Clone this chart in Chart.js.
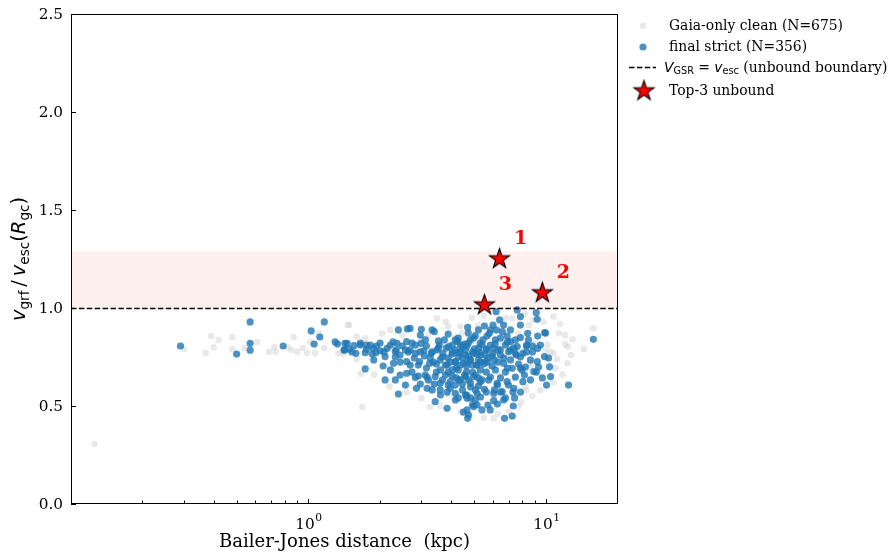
<!DOCTYPE html>
<html><head><meta charset="utf-8">
<script src="https://cdn.jsdelivr.net/npm/chart.js@4/dist/chart.umd.min.js"></script>
<style>html,body{margin:0;padding:0;background:#fff;}#wrap{width:894px;height:552px;}</style>
</head><body><div id="wrap"><canvas id="c" width="894" height="552"></canvas></div>
<script>
// ---------- DATA ----------
// [Bailer-Jones distance (kpc), v_grf / v_esc(R_gc)]
const gaiaClean = [
 [0.126,0.306],[0.30,0.79],[0.37,0.77],[0.39,0.857],[0.40,0.80],[0.42,0.837],[0.48,0.852],[0.48,0.79],
 [0.54,0.796],[0.61,0.826],[0.685,0.776],[0.72,0.80],[0.73,0.776],[0.82,0.80],[0.85,0.786],[0.87,0.852],
 [0.90,0.776],[0.95,0.796],[0.99,0.77],[1.02,0.827],[1.07,0.77],[1.11,0.872],[1.17,0.796],[1.34,0.77],
 [1.40,0.765],[1.47,0.913],[1.69,0.495],[1.67,0.663],[1.49,0.913],[2.22,0.888],[3.49,0.947],[3.89,0.905],
 [4.38,0.905],[4.45,0.871],[7.24,0.947],[10.8,0.956],[11.4,0.871],[12.1,0.862],[15.9,0.896],[10.2,0.811],
 [10.5,0.777],[12.4,0.718],[11.0,0.692],[8.64,0.70],[8.23,0.598],[6.05,0.437],[7.70,0.497],[1.60,0.854],
 [1.74,0.845],[8.5,0.913],[8.89,0.939],[12.1,0.815],[12.4,0.803],[10.8,0.769],[3.27,0.495],
 [2.05,0.87],[2.5,0.86],[3.2,0.86],[3.8,0.93],[4.9,0.95],[5.2,0.91],[5.5,0.96],[6.8,0.95],[8.2,0.97],
 [9.8,0.93],[11.5,0.92],[13.0,0.84],[14.5,0.79],[12.8,0.76],[11.8,0.66],[10.8,0.62],[9.5,0.58],[8.8,0.55],
 [7.9,0.52],[7.0,0.47],[6.3,0.46],[5.5,0.44],[4.4,0.47],[3.6,0.50],[3.0,0.54],[2.6,0.57],[2.2,0.60],
 [1.9,0.66],[1.6,0.74],[1.8,0.80],[2.2,0.80],[2.9,0.78],[3.8,0.75],[4.6,0.69],[5.8,0.70],[6.9,0.76],
 [8.6,0.72],[6.4,0.66],[5.0,0.60],[4.0,0.66],[3.3,0.62],[2.7,0.70],[5.3,0.84],[6.6,0.82],[7.7,0.87],
 [4.2,0.85],[3.0,0.84],[9.0,0.82],[10.0,0.78],[11.2,0.74],[7.4,0.64],[8.3,0.58],[6.1,0.55],[4.9,0.52],[3.9,0.56]
];
const finalStrict = [
 [0.29,0.806],[0.50,0.765],[0.57,0.929],[0.57,0.82],[0.57,0.785],[0.785,0.806],[1.03,0.883],[1.17,0.929],
 [1.12,0.852],[1.06,0.816],[1.30,0.827],[1.33,0.816],[1.46,0.82],[1.42,0.786],[1.49,0.79],
 [7.6,0.99],[6.19,0.981],[9.14,0.976],[7.84,0.956],[6.41,0.939],[9.23,0.942],[5.53,0.908],[6.01,0.913],
 [4.70,0.901],[2.69,0.896],[3.0,0.891],[3.40,0.879],[6.58,0.879],[5.80,0.871],[5.06,0.859],[5.67,0.857],
 [8.41,0.871],[9.92,0.874],[7.84,0.849],[6.89,0.857],[7.12,0.828],[15.9,0.84],[4.27,0.828],[2.37,0.82],
 [2.60,0.828],[2.99,0.82],[3.57,0.811],[3.91,0.803],[4.67,0.806],[5.31,0.82],[6.14,0.816],[7.6,0.803],
 [9.27,0.794],[1.43,0.82],[1.56,0.808],[1.42,0.786],[1.59,0.769],[1.76,0.789],[1.88,0.794],[1.74,0.772],
 [1.93,0.772],[2.01,0.782],[2.15,0.794],[2.11,0.752],[1.89,0.735],[1.74,0.689],[2.33,0.777],[2.44,0.760],
 [2.69,0.786],[2.83,0.769],[3.07,0.782],[3.30,0.769],[3.49,0.786],[3.70,0.769],[4.04,0.765],[4.31,0.772],
 [4.60,0.760],[4.98,0.769],[5.31,0.772],[5.67,0.786],[6.01,0.769],[6.45,0.786],[7.0,0.777],[7.47,0.769],
 [8.03,0.769],[8.35,0.811],[9.23,0.726],[9.9,0.752],[10.4,0.70],[2.29,0.718],[2.60,0.726],[2.95,0.726],
 [3.25,0.718],[3.60,0.735],[3.85,0.709],[4.17,0.726],[4.52,0.718],[4.82,0.735],[5.15,0.709],[5.57,0.726],
 [6.09,0.735],[6.66,0.718],[7.24,0.692],[7.96,0.684],[8.93,0.675],[10.5,0.650],[10.1,0.607],[12.5,0.607],
 [2.33,0.633],[2.40,0.561],[2.60,0.667],[2.83,0.646],[3.11,0.658],[3.43,0.650],[3.60,0.616],[3.97,0.624],
 [4.31,0.633],[4.60,0.650],[4.98,0.650],[5.31,0.624],[5.76,0.633],[6.25,0.616],[6.89,0.624],[7.35,0.590],
 [8.03,0.624],[2.86,0.590],[3.17,0.590],[3.60,0.582],[3.97,0.590],[4.17,0.565],[4.60,0.556],[5.15,0.565],
 [5.53,0.585],[6.05,0.565],[6.57,0.573],[4.67,0.539],[5.06,0.531],[6.05,0.527],[6.66,0.531],[3.43,0.522],
 [3.85,0.488],[4.67,0.480],[4.98,0.497],[5.85,0.480],[7.31,0.50],[6.72,0.437],[7.24,0.449],[4.70,0.437],
 [4.74,0.454],[5.15,0.505],
 [4.38,0.811],[4.83,0.837],[5.22,0.796],[4.17,0.786],[3.89,0.745],[4.47,0.745],[4.93,0.709],[5.32,0.684],
 [4.29,0.684],[4.65,0.673],[5.58,0.760],[5.86,0.811],[5.07,0.658],[4.73,0.633],[4.38,0.709],[4.05,0.811],
 [3.75,0.837],[3.54,0.796],[3.27,0.745],[3.15,0.694],[2.91,0.709],[2.74,0.673],[3.47,0.673],[3.68,0.633],
 [3.89,0.673],[4.17,0.607],[4.47,0.582],[4.83,0.597],[5.22,0.735],[6.46,0.760],[6.78,0.811],[6.15,0.684],
 [7.12,0.735],[7.47,0.837],[7.84,0.750],[8.48,0.837],[8.81,0.776],[6.46,0.847],[5.86,0.888],[7.12,0.888],
 [7.84,0.913],[6.66,0.913],[2.33,0.75],[2.22,0.684],[2.11,0.633],[2.44,0.658],[2.57,0.607],[2.07,0.704],
 [1.83,0.811],[1.66,0.821],[2.40,0.888],[2.62,0.893],
 [4.60,0.786],[4.93,0.776],[5.40,0.811],[5.69,0.724],[4.69,0.724],[4.17,0.724],[3.79,0.709],[5.07,0.582],
 [5.40,0.633],[5.86,0.648],[6.27,0.607],[6.78,0.673],[7.47,0.648],[8.23,0.699],[9.52,0.811],[9.27,0.857],
 [10.3,0.745],[8.31,0.806],[7.12,0.786],[6.03,0.796],[4.29,0.847],[3.12,0.837],[2.83,0.811],[2.57,0.786],
 [2.28,0.827],[2.01,0.821],[1.66,0.811],[1.53,0.776],[3.37,0.724],[3.61,0.684],[4.05,0.653],[4.38,0.633],
 [4.83,0.541],[5.32,0.546],[5.72,0.505],[4.17,0.531],[3.85,0.571],[3.33,0.582],[3.17,0.648],[2.97,0.612],
 [7.29,0.571],[8.64,0.633],[7.84,0.571],[6.46,0.571],[9.35,0.699],[10.0,0.872],
 [4.47,0.801],[4.73,0.821],[5.02,0.791],[5.32,0.760],[5.63,0.791],[5.96,0.755],[6.31,0.724],[6.68,0.745],
 [4.73,0.755],[4.29,0.750],[3.97,0.724],[3.67,0.750],[3.47,0.714],[4.21,0.694],[4.56,0.658],[4.93,0.673],
 [5.22,0.643],[5.63,0.673],[5.96,0.704],[4.83,0.617],[4.47,0.612],[4.21,0.643],[3.89,0.607],[5.12,0.709],
 [5.49,0.714],[4.65,0.704],[4.05,0.776],[3.82,0.796],[3.33,0.776],[3.15,0.806],[2.97,0.776],[2.80,0.745],
 [2.64,0.776],[2.49,0.806],[2.35,0.786],[2.22,0.811],[2.09,0.776],[1.94,0.806],[1.86,0.765],[1.76,0.811],
 [2.74,0.821],[3.09,0.755],[3.54,0.832],[4.17,0.837],[4.98,0.847],[5.45,0.837],[6.15,0.837],[6.91,0.827],
 [7.35,0.796],[7.70,0.714],[6.91,0.694],[6.46,0.643],[6.09,0.582],[5.63,0.571],[5.22,0.602],[4.65,0.556],
 [4.29,0.541],[4.93,0.505],[5.40,0.480],[4.51,0.469],[3.61,0.556],[3.21,0.633],[2.91,0.653],[2.69,0.709],
 [2.44,0.724],[3.40,0.612],[6.98,0.607],[8.15,0.658],[8.64,0.735],[8.31,0.776],[9.16,0.673],[9.70,0.643],
 [7.41,0.541],[6.27,0.510],[6.78,0.541],[6.21,0.888],[5.22,0.888],[4.73,0.872],[3.89,0.867],[3.33,0.888],
 [2.97,0.862],[3.79,0.658],[5.32,0.724],[5.72,0.745],[4.83,0.735],[4.38,0.776],[4.05,0.684],[4.56,0.816],
 [5.12,0.765],[6.31,0.786],[7.53,0.760],[7.84,0.694],[8.81,0.806]
];
const top3 = [[6.4,1.25],[9.7,1.077],[5.53,1.015]];
const top3Labels = ['1','2','3'];
const yTicks = [0,0.5,1.0,1.5,2.0,2.5];
const xMajorTicks = [1,10];
const xMajorExp = ['0','1'];
const xMinorTicks = [0.2,0.3,0.4,0.5,0.6,0.7,0.8,0.9,2,3,4,5,6,7,8,9,20];
const X_MIN = 0.1003, X_MAX = 20.2, Y_MIN = 0, Y_MAX = 2.5;
const BOUNDARY = 1.0, BAND_TOP = 1.29;
const legendLabels = ['Gaia-only clean (N=675)','final strict (N=356)',' (unbound boundary)','Top-3 unbound'];

// ---------- STYLE ----------
const SERIF = '"DejaVu Serif", serif';
const SANS = '"DejaVu Sans", sans-serif';
const BLUE = 'rgba(31,119,180,0.8)';
const GREY = 'rgba(211,211,211,0.5)';

function makeStar(R){
  const s = Math.ceil(R*2+4), c = document.createElement('canvas');
  c.width = s; c.height = s;
  const g = c.getContext('2d'), cx = s/2, cy = s/2, r = R*0.382;
  g.beginPath();
  for (let i=0;i<10;i++){
    const a = -Math.PI/2 + i*Math.PI/5, rr = (i%2===0)?R:r;
    const px = cx + rr*Math.cos(a), py = cy + rr*Math.sin(a);
    i===0 ? g.moveTo(px,py) : g.lineTo(px,py);
  }
  g.closePath();
  g.fillStyle = '#ff0000'; g.fill();
  g.lineWidth = 1.1; g.strokeStyle = '#000'; g.lineJoin='miter'; g.stroke();
  return c;
}
const starImg = makeStar(10.5);
const starLegend = makeStar(10.5);

function drawRuns(ctx, runs, x, y){
  for (const r of runs){
    ctx.font = r.f;
    ctx.fillText(r.t, x, y + (r.dy||0));
    x += ctx.measureText(r.t).width;
  }
  return x;
}
function runsWidth(ctx, runs){
  let w = 0;
  for (const r of runs){ ctx.font = r.f; w += ctx.measureText(r.t).width; }
  return w;
}

const decor = {
  id: 'decor',
  beforeDatasetsDraw(chart){
    const {ctx, chartArea:a, scales:{y}} = chart;
    const y0 = y.getPixelForValue(BOUNDARY), y1 = y.getPixelForValue(BAND_TOP);
    ctx.save();
    ctx.fillStyle = 'rgba(255,0,0,0.06)';
    ctx.fillRect(a.left, y1, a.right-a.left, y0-y1);
    ctx.restore();
  },
  afterDatasetDraw(chart, args){
    if (args.index !== 1) return;
    const {ctx, chartArea:a, scales:{y}} = chart;
    const yy = Math.round(y.getPixelForValue(BOUNDARY)) + 0.5;
    ctx.save();
    ctx.beginPath();
    ctx.rect(a.left, a.top, a.right-a.left, a.bottom-a.top); ctx.clip();
    ctx.strokeStyle = '#000'; ctx.lineWidth = 1.4; ctx.setLineDash([5.5,2.4]);
    ctx.beginPath(); ctx.moveTo(a.left, yy); ctx.lineTo(a.right, yy); ctx.stroke();
    ctx.restore();
  },
  afterDraw(chart){
    const {ctx, chartArea:a, scales:{x, y}} = chart;
    ctx.save();
    // star labels
    ctx.fillStyle = '#ff0000';
    ctx.font = 'bold 19px ' + SERIF;
    ctx.textAlign = 'center'; ctx.textBaseline = 'middle';
    top3.forEach((p,i)=>{
      const px = x.getPixelForValue(p[0]), py = y.getPixelForValue(p[1]);
      ctx.fillText(top3Labels[i], px + 21, py - 20);
    });
    // frame
    ctx.strokeStyle = '#000'; ctx.lineWidth = 1;
    ctx.strokeRect(a.left+0.5, a.top+0.5, a.right-a.left-1, a.bottom-a.top-1);
    // y ticks
    ctx.fillStyle = '#000';
    ctx.font = '15.3px ' + SERIF;
    ctx.textAlign = 'right'; ctx.textBaseline = 'middle';
    yTicks.forEach(v=>{
      const py = Math.round(y.getPixelForValue(v)) + 0.5;
      ctx.beginPath(); ctx.moveTo(a.left, py); ctx.lineTo(a.left+5, py); ctx.stroke();
      ctx.fillText(v.toFixed(1), a.left-8, py+1);
    });
    // x ticks
    xMinorTicks.forEach(v=>{
      const px = Math.round(x.getPixelForValue(v)) + 0.5;
      if (px < a.left || px > a.right) return;
      ctx.beginPath(); ctx.moveTo(px, a.bottom); ctx.lineTo(px, a.bottom-3.5); ctx.stroke();
    });
    xMajorTicks.forEach((v,i)=>{
      const px = Math.round(x.getPixelForValue(v)) + 0.5;
      ctx.beginPath(); ctx.moveTo(px, a.bottom); ctx.lineTo(px, a.bottom-5); ctx.stroke();
      ctx.font = '15.3px ' + SERIF;
      const w1 = ctx.measureText('10').width;
      ctx.font = '10.7px ' + SERIF;
      const w2 = ctx.measureText(xMajorExp[i]).width;
      const x0 = px - (w1+w2)/2;
      ctx.textAlign = 'left'; ctx.textBaseline = 'alphabetic';
      ctx.font = '15.3px ' + SERIF; ctx.fillText('10', x0, 529);
      ctx.font = '10.7px ' + SERIF; ctx.fillText(xMajorExp[i], x0 + w1 + 0.5, 521);
    });
    // x title
    ctx.font = '18px ' + SERIF; ctx.textAlign = 'center'; ctx.textBaseline = 'alphabetic';
    ctx.fillText('Bailer-Jones distance  (kpc)', (a.left+a.right)/2, 547);
    // y title (mathtext)
    const big = 19.5, sm = 13.6;
    const yRuns = [
      {t:'v', f:'italic '+big+'px '+SANS},
      {t:'grf', f:sm+'px '+SANS, dy:4},
      {t:'\u2009/\u2009', f:big+'px '+SANS},
      {t:'v', f:'italic '+big+'px '+SANS},
      {t:'esc', f:sm+'px '+SANS, dy:4},
      {t:'(', f:big+'px '+SANS},
      {t:'R', f:'italic '+big+'px '+SANS},
      {t:'gc', f:sm+'px '+SANS, dy:4},
      {t:')', f:big+'px '+SANS}
    ];
    ctx.save();
    ctx.translate(25, (a.top+a.bottom)/2);
    ctx.rotate(-Math.PI/2);
    ctx.textAlign = 'left';
    const yw = runsWidth(ctx, yRuns);
    drawRuns(ctx, yRuns, -yw/2, 0);
    ctx.restore();
    // legend
    const LF = '13.9px ' + SERIF;
    ctx.textAlign = 'left'; ctx.textBaseline = 'middle';
    ctx.fillStyle = GREY; ctx.beginPath(); ctx.arc(643, 26, 3.3, 0, Math.PI*2); ctx.fill();
    ctx.fillStyle = '#000'; ctx.font = LF; ctx.fillText(legendLabels[0], 669, 26);
    ctx.fillStyle = BLUE; ctx.beginPath(); ctx.arc(643, 47, 3.6, 0, Math.PI*2); ctx.fill();
    ctx.fillStyle = '#000'; ctx.font = LF; ctx.fillText(legendLabels[1], 669, 47);
    ctx.strokeStyle = '#000'; ctx.lineWidth = 1.4; ctx.setLineDash([5.5,2.4]);
    ctx.beginPath(); ctx.moveTo(629, 67.5); ctx.lineTo(656, 67.5); ctx.stroke();
    ctx.setLineDash([]);
    const lm = 13.9, ls = 9.7;
    const lRuns = [
      {t:'V', f:'italic '+lm+'px '+SANS},
      {t:'GSR', f:ls+'px '+SANS, dy:3},
      {t:' = ', f:lm+'px '+SANS},
      {t:'v', f:'italic '+lm+'px '+SANS},
      {t:'esc', f:ls+'px '+SANS, dy:3},
      {t:legendLabels[2], f:LF}
    ];
    drawRuns(ctx, lRuns, 664, 68);
    ctx.drawImage(starLegend, 644 - starLegend.width/2, 91 - starLegend.height/2);
    ctx.font = LF; ctx.fillText(legendLabels[3], 669, 91);
    ctx.restore();
  }
};

const toXY = arr => arr.map(p => ({x:p[0], y:p[1]}));

new Chart(document.getElementById('c'), {
  type: 'scatter',
  data: {
    datasets: [
      {label:'Gaia-only clean', data: toXY(gaiaClean), order: 2,
       backgroundColor: GREY, borderWidth: 0, pointRadius: 3.3, pointHoverRadius: 3.3},
      {label:'final strict', data: toXY(finalStrict), order: 1,
       backgroundColor: BLUE, borderWidth: 0, pointRadius: 3.6, pointHoverRadius: 3.6},
      {label:'Top-3 unbound', data: toXY(top3), order: 0,
       pointStyle: starImg, pointRadius: 10, pointHoverRadius: 10}
    ]
  },
  options: {
    responsive: false, animation: false, devicePixelRatio: 1,
    events: [],
    layout: {padding: {left: 0, top: 14, right: 276, bottom: 0}},
    plugins: {legend: {display: false}, tooltip: {enabled: false}, title: {display: false}},
    scales: {
      x: {type: 'logarithmic', min: X_MIN, max: X_MAX,
          ticks: {display: false}, grid: {display: false}, border: {display: false},
          afterFit(s){ s.height = 48; }},
      y: {type: 'linear', min: Y_MIN, max: Y_MAX,
          ticks: {display: false}, grid: {display: false}, border: {display: false},
          afterFit(s){ s.width = 71; }}
    }
  },
  plugins: [decor]
});
</script>
</body></html>
